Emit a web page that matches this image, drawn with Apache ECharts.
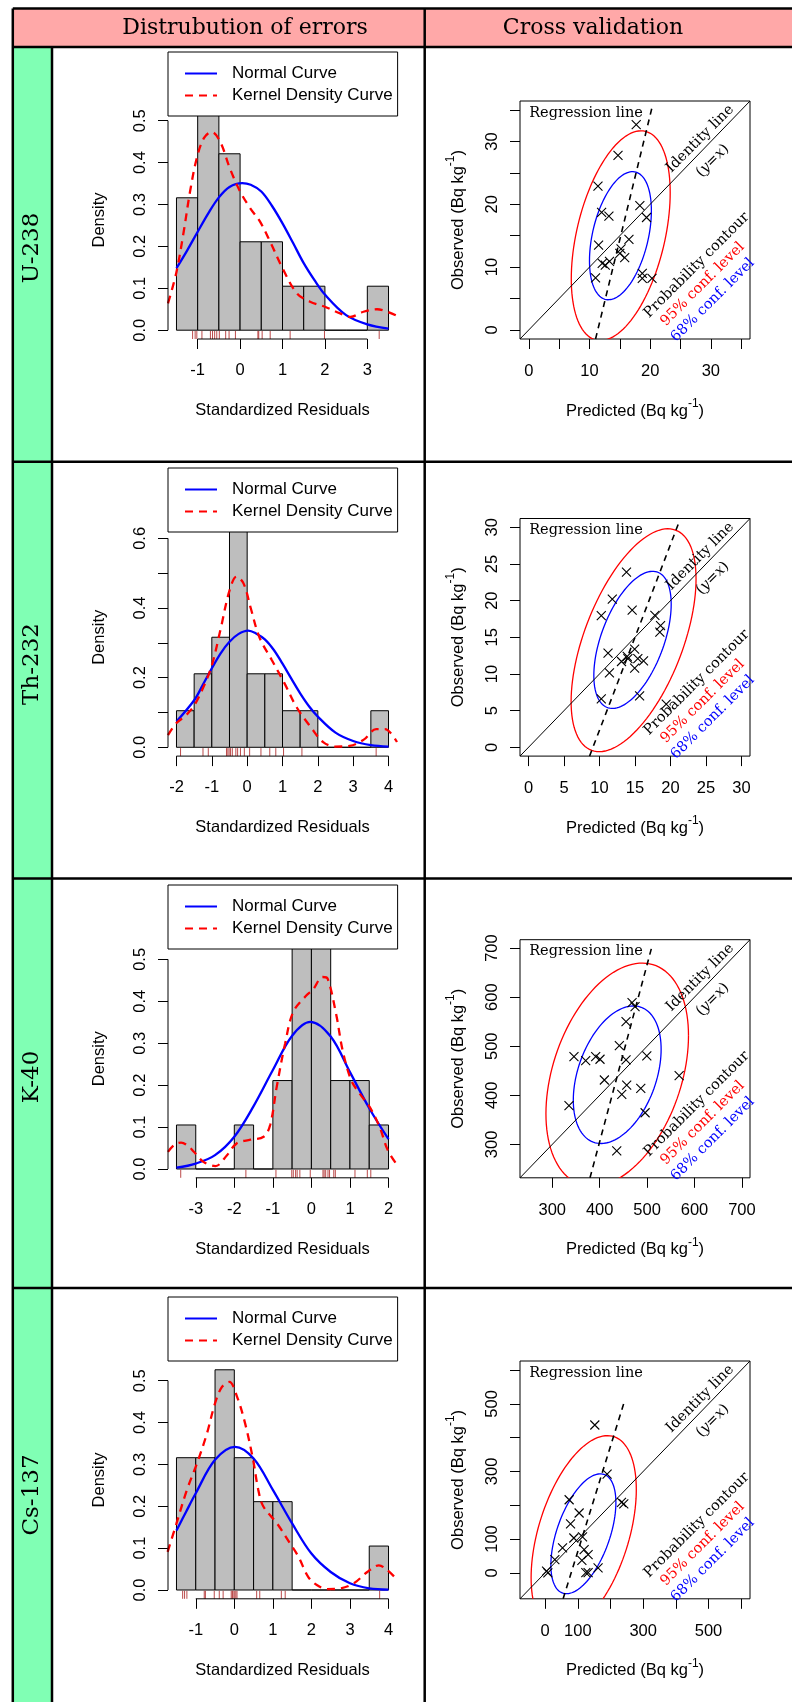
<!DOCTYPE html>
<html>
<head>
<meta charset="utf-8">
<title>Distribution of errors and cross validation</title>
<script src="https://cdn.jsdelivr.net/npm/echarts@6/dist/echarts.min.js"></script>
<style>
    html, body { margin: 0; padding: 0; background: #fff; }
    #chart { width: 792px; height: 1702px; }
</style>
</head>
<body>
<div id="chart"></div>
<script>
// ---------- values ----------
const binWidth = 0.5;

// U-238
const u238BinStart = -1.5;
const u238Density = [0.316, 0.526, 0.421, 0.211, 0.211, 0.105, 0.105, 0, 0, 0.105];
const u238Residuals = [-1.12, -1.06, -1.02, -0.9, -0.7, -0.65, -0.6, -0.55, -0.49, -0.34, -0.26, -0.11, 0.42, 0.44, 0.52, 0.71, 1.18, 1.99, 3.28];
const u238Normal = [[-1.5, 0.148], [-1.25, 0.19], [-1, 0.235], [-0.75, 0.279], [-0.5, 0.317], [-0.25, 0.342], [0.05, 0.351], [0.25, 0.347], [0.5, 0.331], [0.75, 0.297], [1, 0.255], [1.25, 0.208], [1.5, 0.16], [1.75, 0.12], [2, 0.085], [2.5, 0.036], [3, 0.014], [3.5, 0.004]];
const u238Kernel = [[-1.7, 0.064], [-1.5, 0.139], [-1.33, 0.235], [-1.18, 0.331], [-1.02, 0.411], [-0.85, 0.459], [-0.67, 0.473], [-0.47, 0.45], [-0.24, 0.386], [0, 0.331], [0.24, 0.291], [0.47, 0.259], [0.71, 0.211], [1, 0.148], [1.34, 0.088], [1.65, 0.068], [2, 0.056], [2.36, 0.04], [2.6, 0.032], [2.91, 0.044], [3.23, 0.05], [3.7, 0.034]];
const u238Predicted = [17.7, 14.7, 11.4, 12.0, 13.2, 18.3, 19.4, 11.5, 16.5, 15.2, 15.0, 15.8, 12.1, 12.6, 13.3, 11.0, 18.7, 18.7, 20.3];
const u238Observed = [32.7, 27.8, 22.9, 18.7, 18.1, 19.8, 17.9, 13.5, 14.4, 12.9, 12.2, 11.5, 10.6, 10.3, 10.9, 8.3, 9.0, 8.2, 8.2];
const u238Ellipse95 = [15.15, 15.0, 8.15, 16.7, 0.41];
const u238Ellipse68 = [15.1, 15.0, 5.1, 10.2, 0.39];
const u238Regression = [[11.0, -1.45], [20.3, 35.4]];

// Th-232
const th232BinStart = -2;
const th232Density = [0.105, 0.211, 0.316, 0.632, 0.211, 0.211, 0.105, 0.105, 0, 0, 0, 0.105];
const th232Residuals = [-1.885, -1.25, -1.1, -0.585, -0.547, -0.51, -0.47, -0.42, -0.32, -0.27, -0.19, -0.08, 0.07, 0.39, 0.64, 0.81, 1.03, 1.55, 3.65];
const th232Normal = [[-2, 0.074], [-1.5, 0.135], [-1.25, 0.18], [-1, 0.227], [-0.75, 0.27], [-0.5, 0.303], [-0.25, 0.325], [0.03, 0.335], [0.25, 0.327], [0.5, 0.31], [0.75, 0.28], [1, 0.24], [1.25, 0.197], [1.5, 0.155], [1.75, 0.118], [2, 0.088], [2.5, 0.042], [3, 0.018], [3.5, 0.006], [4, 0.002]];
const th232Kernel = [[-2.24, 0.035], [-2, 0.07], [-1.75, 0.09], [-1.5, 0.12], [-1.25, 0.17], [-1, 0.235], [-0.75, 0.34], [-0.5, 0.45], [-0.3, 0.49], [-0.1, 0.47], [0.1, 0.4], [0.35, 0.315], [0.7, 0.25], [1.05, 0.185], [1.4, 0.115], [1.8, 0.058], [2.15, 0.015], [2.5, 0.002], [2.9, 0.004], [3.3, 0.022], [3.65, 0.052], [3.9, 0.052], [4.24, 0.015]];
const th232Predicted = [13.8, 11.8, 10.25, 14.6, 17.8, 18.6, 18.5, 11.2, 14.95, 13.9, 13.1, 14.0, 15.4, 16.2, 14.95, 11.4, 10.25, 15.65, 19.4];
const th232Observed = [23.9, 20.2, 17.95, 18.7, 18.0, 16.6, 15.7, 12.85, 13.4, 12.4, 11.7, 12.1, 12.1, 11.8, 10.8, 10.15, 6.6, 7.0, 5.9];
const th232Ellipse95 = [14.8, 14.6, 8.8, 15.2, 0.55];
const th232Ellipse68 = [14.65, 14.65, 5.45, 9.35, 0.52];
const th232Regression = [[8.6, -1.2], [21.2, 30.7]];

// K-40
const k40BinStart = -3.5;
const k40Density = [0.105, 0, 0, 0.105, 0, 0.211, 0.526, 0.526, 0.211, 0.211, 0.105];
const k40Residuals = [-3.39, -1.7, -0.92, -0.51, -0.47, -0.41, -0.37, -0.3, -0.03, 0.3, 0.33, 0.37, 0.43, 0.47, 0.58, 0.62, 1.13, 1.45, 1.54];
const k40Normal = [[-3.5, 0.003], [-3, 0.013], [-2.5, 0.033], [-2, 0.077], [-1.5, 0.15], [-1, 0.236], [-0.5, 0.318], [-0.03, 0.351], [0.5, 0.316], [1, 0.231], [1.5, 0.145], [2, 0.071]];
const k40Kernel = [[-3.72, 0.041], [-3.55, 0.058], [-3.38, 0.063], [-3.2, 0.055], [-3.05, 0.041], [-2.8, 0.017], [-2.49, 0.007], [-2.19, 0.033], [-1.94, 0.061], [-1.58, 0.07], [-1.24, 0.077], [-1.07, 0.105], [-0.9, 0.196], [-0.68, 0.3], [-0.47, 0.375], [-0.12, 0.415], [0.04, 0.428], [0.29, 0.458], [0.42, 0.454], [0.64, 0.37], [0.81, 0.283], [1.03, 0.212], [1.25, 0.18], [1.51, 0.148], [1.77, 0.1], [1.98, 0.045], [2.22, 0.01]];
const k40Predicted = [468.3, 474.6, 455.6, 441.5, 455.6, 345.8, 370.5, 391.6, 400.7, 499.4, 409.9, 457.0, 486.7, 446.6, 567.6, 335.3, 495.8, 436.0];
const k40Observed = [589, 580.7, 550.2, 501.2, 472.0, 478.8, 470.6, 478.8, 473.5, 480.2, 431.2, 421.0, 414.3, 402.0, 440.0, 378.8, 364.5, 287.0];
const k40Ellipse95 = [437, 442, 150.3, 227.4, 0.35];
const k40Ellipse68 = [437, 442, 92.6, 140.1, 0.37];
const k40Regression = [[379.6, 232], [511.2, 706.7]];

// Cs-137
const cs137BinStart = -1.5;
const cs137Density = [0.316, 0.316, 0.526, 0.316, 0.211, 0.211, 0, 0, 0, 0, 0.105];
const cs137Residuals = [-1.34, -1.29, -1.23, -0.78, -0.75, -0.52, -0.39, -0.29, -0.08, -0.05, -0.03, 0.01, 0.04, 0.07, 0.58, 0.66, 1.22, 1.32, 3.77];
const cs137Normal = [[-1.5, 0.142], [-1.25, 0.187], [-1, 0.231], [-0.5, 0.311], [0.02, 0.342], [0.5, 0.314], [1, 0.239], [1.5, 0.159], [2, 0.087], [2.5, 0.043], [3, 0.016], [3.5, 0.004], [4, 0.001]];
const cs137Kernel = [[-1.73, 0.091], [-1.5, 0.159], [-1.23, 0.239], [-0.97, 0.302], [-0.71, 0.374], [-0.5, 0.446], [-0.32, 0.485], [-0.13, 0.497], [0.07, 0.462], [0.28, 0.398], [0.49, 0.31], [0.62, 0.24], [0.75, 0.2], [1.1, 0.16], [1.44, 0.112], [1.66, 0.08], [1.92, 0.031], [2.14, 0.012], [2.41, 0.002], [2.76, 0.004], [3.1, 0.016], [3.45, 0.043], [3.75, 0.059], [3.96, 0.048], [4.22, 0.025]];
const cs137Predicted = [152, 189.6, 73.4, 233.6, 240.7, 104, 77.7, 87.8, 114.4, 53.2, 119.3, 131.5, 29.7, 112.4, 4.3, 8.3, 124.5, 131.5, 162];
const cs137Observed = [437.5, 292, 216.2, 208.3, 204.3, 177, 144.5, 103, 106, 73.7, 68.7, 54, 39.2, 37, 4.7, 0, 0.7, 0.7, 14.7];
const cs137Ellipse95 = [118, 116, 161, 290, 0.45];
const cs137Ellipse68 = [117, 115.5, 99.5, 177.5, 0.52];
const cs137Regression = [[55, -77], [241.6, 504.4]];

// axis ticks and tick labels
const u238HistXTicks = [-1, 0, 1, 2, 3];
const th232HistXTicks = [-2, -1, 0, 1, 2, 3, 4];
const k40HistXTicks = [-3, -2, -1, 0, 1, 2];
const cs137HistXTicks = [-1, 0, 1, 2, 3, 4];
const densityTicks = [0, 0.1, 0.2, 0.3, 0.4, 0.5];
const th232DensityTicks = [0, 0.1, 0.2, 0.3, 0.4, 0.5, 0.6];
const th232DensityLabels = [0, 0.2, 0.4, 0.6];
const u238CvTicks = [0, 5, 10, 15, 20, 25, 30, 35];
const u238CvLabels = [0, 10, 20, 30];
const th232CvTicks = [0, 5, 10, 15, 20, 25, 30];
const k40CvTicks = [300, 400, 500, 600, 700];
const cs137CvTicks = [0, 100, 200, 300, 400, 500, 600];
const cs137CvLabels = [0, 100, 300, 500];

const rowLabels = ['U-238', 'Th-232', 'K-40', 'Cs-137'];
const headerLabels = ['Distrubution of errors', 'Cross validation'];

// ---------- layout ----------
const sans = '"Liberation Sans", Arial, sans-serif';
const serif = '"DejaVu Serif", serif';
const W = 792, H = 1702;
const tableTop = 8.5, headerBottom = 47, tableLeft = 12.8, labelRight = 52, midX = 424.7;
const rows = [
    { top: 47, bottom: 461.7, plotTop: 101, plotBottom: 339, legendTop: 52, labelY: 248 },
    { top: 461.7, bottom: 878.5, plotTop: 518.5, plotBottom: 756.1, legendTop: 468, labelY: 664 },
    { top: 878.5, bottom: 1288, plotTop: 939.7, plotBottom: 1177.8, legendTop: 885, labelY: 1077 },
    { top: 1288, bottom: 1702, plotTop: 1361, plotBottom: 1598.8, legendTop: 1297, labelY: 1495 },
];
const histLeft = 168, histWidth = 229;
const cvLeft = 520, cvWidth = 230;

const histPanels = [
    { binStart: u238BinStart, density: u238Density, residuals: u238Residuals, normal: u238Normal, kernel: u238Kernel,
      xRange: [-1.7, 3.7], yRange: [-0.021, 0.547], xTicks: u238HistXTicks, yTicks: densityTicks, yLabels: densityTicks },
    { binStart: th232BinStart, density: th232Density, residuals: th232Residuals, normal: th232Normal, kernel: th232Kernel,
      xRange: [-2.24, 4.24], yRange: [-0.0253, 0.657], xTicks: th232HistXTicks, yTicks: th232DensityTicks, yLabels: th232DensityLabels },
    { binStart: k40BinStart, density: k40Density, residuals: k40Residuals, normal: k40Normal, kernel: k40Kernel,
      xRange: [-3.72, 2.22], yRange: [-0.021, 0.547], xTicks: k40HistXTicks, yTicks: densityTicks, yLabels: densityTicks },
    { binStart: cs137BinStart, density: cs137Density, residuals: cs137Residuals, normal: cs137Normal, kernel: cs137Kernel,
      xRange: [-1.72, 4.22], yRange: [-0.021, 0.547], xTicks: cs137HistXTicks, yTicks: densityTicks, yLabels: densityTicks },
];
const cvPanels = [
    { predicted: u238Predicted, observed: u238Observed, e95: u238Ellipse95, e68: u238Ellipse68, regression: u238Regression,
      range: [-1.45, 36.45], ticks: u238CvTicks, labels: u238CvLabels },
    { predicted: th232Predicted, observed: th232Observed, e95: th232Ellipse95, e68: th232Ellipse68, regression: th232Regression,
      range: [-1.2, 31.2], ticks: th232CvTicks, labels: th232CvTicks },
    { predicted: k40Predicted, observed: k40Observed, e95: k40Ellipse95, e68: k40Ellipse68, regression: k40Regression,
      range: [232, 717], ticks: k40CvTicks, labels: k40CvTicks },
    { predicted: cs137Predicted, observed: cs137Observed, e95: cs137Ellipse95, e68: cs137Ellipse68, regression: cs137Regression,
      range: [-77, 627], ticks: cs137CvTicks, labels: cs137CvLabels },
];

const axisText = { fontFamily: sans, fontSize: 16.5, color: '#000' };
const unitRich = {
    sup: { fontFamily: sans, fontSize: 12, lineHeight: 12, verticalAlign: 'top', color: '#000' },
};

function barItem(params, api) {
    const p0 = api.coord([api.value(0), 0]);
    const p1 = api.coord([api.value(1), api.value(2)]);
    return {
        type: 'rect',
        shape: { x: p0[0], y: p1[1], width: p1[0] - p0[0], height: p0[1] - p1[1] },
        style: { fill: '#bebebe', stroke: '#000', lineWidth: 1 },
    };
}

function ellipseItem(params, api) {
    const cx = api.value(0), cy = api.value(1), a = api.value(2), b = api.value(3);
    const phi = Math.acos(api.value(4));
    const pts = [];
    for (let k = 0; k <= 120; k++) {
        const t = (k / 120) * Math.PI * 2;
        pts.push(api.coord([cx + a * Math.cos(t), cy + b * Math.cos(t - phi)]));
    }
    return { type: 'polyline', shape: { points: pts }, style: { stroke: api.visual('color'), fill: null, lineWidth: 1.3 } };
}

const grid = [], xAxis = [], yAxis = [], series = [], legend = [], graphic = [];

histPanels.forEach((p, i) => {
    const row = rows[i];
    grid.push({ left: histLeft, top: row.plotTop, width: histWidth, height: row.plotBottom - row.plotTop });
    xAxis.push({
        type: 'value', gridIndex: i, min: p.xRange[0], max: p.xRange[1],
        name: 'Standardized Residuals', nameLocation: 'middle', nameGap: 63, nameTextStyle: axisText,
        axisLine: { show: false, onZero: false }, splitLine: { show: false },
        axisTick: { show: true, length: 10, lineStyle: { color: '#000' }, customValues: p.xTicks },
        axisLabel: { ...axisText, margin: 23, customValues: p.xTicks },
    });
    yAxis.push({
        type: 'value', gridIndex: i, min: p.yRange[0], max: p.yRange[1],
        name: 'Density', nameLocation: 'middle', nameGap: 60, nameTextStyle: axisText,
        axisLine: { show: false, onZero: false }, splitLine: { show: false },
        axisTick: { show: true, length: 10, lineStyle: { color: '#000' }, customValues: p.yTicks },
        axisLabel: { ...axisText, rotate: 90, margin: 19.5, customValues: p.yLabels, formatter: (v) => v.toFixed(1) },
    });
    const bins = p.density.map((d, k) => [p.binStart + k * binWidth, p.binStart + (k + 1) * binWidth, d]);
    series.push({
        type: 'custom', xAxisIndex: i, yAxisIndex: i, data: bins, encode: { x: [0, 1], y: 2 },
        renderItem: barItem, silent: true, z: 2,
    });
    series.push({
        type: 'line', name: 'Normal Curve', xAxisIndex: i, yAxisIndex: i, data: p.normal,
        symbol: 'none', smooth: 0.35, silent: true, z: 3,
        lineStyle: { color: '#0000ff', width: 2.3 }, itemStyle: { color: '#0000ff' },
    });
    series.push({
        type: 'line', name: 'Kernel Density Curve', xAxisIndex: i, yAxisIndex: i, data: p.kernel,
        symbol: 'none', smooth: 0.35, silent: true, z: 4,
        lineStyle: { color: '#ff0000', width: 2.3, type: [8, 6] }, itemStyle: { color: '#ff0000' },
    });
    const yMin = p.yRange[0];
    series.push({
        type: 'custom', xAxisIndex: i, yAxisIndex: i, data: p.residuals.map((r) => [r]), encode: { x: 0 },
        silent: true, z: 3,
        renderItem: (params, api) => {
            const pt = api.coord([api.value(0), yMin]);
            return { type: 'line', shape: { x1: pt[0], y1: pt[1], x2: pt[0], y2: pt[1] - 8 },
                     style: { stroke: 'rgba(170, 30, 30, 0.8)', lineWidth: 1 } };
        },
    });
    // R style axis lines, from first to last tick
    const xt = p.xTicks, yt = p.yTicks;
    series.push({
        type: 'line', xAxisIndex: i, yAxisIndex: i, clip: false, symbol: 'none', silent: true, z: 5,
        data: [[xt[0], yMin], [xt[xt.length - 1], yMin]], lineStyle: { color: '#000', width: 1 },
    });
    series.push({
        type: 'line', xAxisIndex: i, yAxisIndex: i, clip: false, symbol: 'none', silent: true, z: 5,
        data: [[p.xRange[0], yt[0]], [p.xRange[0], yt[yt.length - 1]]], lineStyle: { color: '#000', width: 1 },
    });
    legend.push({
        orient: 'vertical', left: histLeft, top: row.legendTop,
        padding: [13, 5, 12, 16], itemGap: 5, itemWidth: 32, itemHeight: 16,
        backgroundColor: '#fff', borderColor: '#000', borderWidth: 1, selectedMode: false, z: 10,
        itemStyle: { opacity: 0 },
        textStyle: { fontFamily: sans, fontSize: 17, color: '#000', lineHeight: 16, padding: [0, 0, 0, 10] },
        data: ['Normal Curve', 'Kernel Density Curve'],
    });
});

cvPanels.forEach((p, j) => {
    const i = j + 4;
    const row = rows[j];
    const gh = row.plotBottom - row.plotTop;
    grid.push({ left: cvLeft, top: row.plotTop, width: cvWidth, height: gh, show: true, borderColor: '#000', borderWidth: 1 });
    const common = {
        type: 'value', gridIndex: i, min: p.range[0], max: p.range[1], nameLocation: 'middle',
        axisLine: { show: false, onZero: false }, splitLine: { show: false },
        axisTick: { show: true, length: 10, lineStyle: { color: '#000' }, customValues: p.ticks },
    };
    xAxis.push({
        ...common, name: 'Predicted (Bq kg{sup|-1})', nameGap: 59,
        nameTextStyle: { ...axisText, lineHeight: 26, rich: unitRich },
        axisLabel: { ...axisText, margin: 24, customValues: p.labels },
    });
    yAxis.push({
        ...common, name: 'Observed (Bq kg{sup|-1})', nameGap: 49,
        nameTextStyle: { ...axisText, lineHeight: 26, rich: unitRich },
        axisLabel: { ...axisText, rotate: 90, margin: 19, customValues: p.labels },
    });
    series.push({
        type: 'custom', xAxisIndex: i, yAxisIndex: i, data: [p.e95], encode: { x: 0, y: 1 },
        renderItem: ellipseItem, clip: true, silent: true, itemStyle: { color: '#ff0000' }, z: 2,
    });
    series.push({
        type: 'custom', xAxisIndex: i, yAxisIndex: i, data: [p.e68], encode: { x: 0, y: 1 },
        renderItem: ellipseItem, clip: true, silent: true, itemStyle: { color: '#0000ff' }, z: 2,
    });
    series.push({
        type: 'line', xAxisIndex: i, yAxisIndex: i, symbol: 'none', silent: true, z: 3,
        data: [[p.range[0], p.range[0]], [p.range[1], p.range[1]]], lineStyle: { color: '#000', width: 1 },
    });
    series.push({
        type: 'line', xAxisIndex: i, yAxisIndex: i, symbol: 'none', silent: true, z: 3,
        data: p.regression, lineStyle: { color: '#000', width: 1.6, type: [6, 5] },
    });
    series.push({
        type: 'scatter', xAxisIndex: i, yAxisIndex: i, silent: true, z: 4,
        data: p.predicted.map((v, k) => [v, p.observed[k]]),
        symbol: 'path://M0,0L10,10M10,0L0,10', symbolSize: 9,
        itemStyle: { color: 'rgba(0,0,0,0)', borderColor: '#000', borderWidth: 1.1, opacity: 1 },
    });
    // text annotations, placed in the plot box like the original
    const at = (fx, fy) => [cvLeft + fx * cvWidth, row.plotTop + fy * gh];
    const notes = [
        { text: 'Regression line', pos: at(0.04, 0.05), rot: 0, align: 'left', color: '#000' },
        { text: 'Identity line', pos: at(0.783, 0.159), rot: 45, align: 'center', color: '#000' },
        { text: '({i|y}={i|x})', pos: at(0.838, 0.251), rot: 45, align: 'center', color: '#000' },
        { text: 'Probability contour', pos: at(0.768, 0.69), rot: 45, align: 'center', color: '#000' },
        { text: '95% conf. level', pos: at(0.794, 0.77), rot: 45, align: 'center', color: '#ff0000' },
        { text: '68% conf. level', pos: at(0.838, 0.837), rot: 45, align: 'center', color: '#0000ff' },
    ];
    notes.forEach((n) => {
        graphic.push({
            type: 'text', x: n.pos[0], y: n.pos[1], rotation: (n.rot * Math.PI) / 180, z: 20, silent: true,
            style: {
                text: n.text, fill: n.color, font: '14.5px ' + serif, align: n.align, verticalAlign: 'middle',
                rich: { i: { fontStyle: 'italic', fontFamily: serif, fontSize: 14.5, fill: n.color } },
            },
        });
    });
});

// ---------- table frame ----------
graphic.unshift(
    { type: 'rect', z: -10, shape: { x: tableLeft, y: tableTop, width: W - tableLeft, height: headerBottom - tableTop }, style: { fill: '#ffa8a8' } },
    { type: 'rect', z: -10, shape: { x: tableLeft, y: headerBottom, width: labelRight - tableLeft, height: H - headerBottom }, style: { fill: '#80ffb4' } }
);
const frameLines = [
    [tableLeft, tableTop, W, tableTop],
    [tableLeft, headerBottom, W, headerBottom],
    [tableLeft, tableTop, tableLeft, H],
    [labelRight, headerBottom, labelRight, H],
    [midX, tableTop, midX, H],
];
rows.slice(0, 3).forEach((r) => frameLines.push([tableLeft, r.bottom, W, r.bottom]));
frameLines.forEach((l) => {
    graphic.push({ type: 'line', z: 30, silent: true, shape: { x1: l[0], y1: l[1], x2: l[2], y2: l[3] }, style: { stroke: '#000', lineWidth: 2.5 } });
});
graphic.push(
    { type: 'text', x: 245, y: 28, z: 30, style: { text: headerLabels[0], font: '22px ' + serif, fill: '#000', align: 'center', verticalAlign: 'middle' } },
    { type: 'text', x: 593, y: 28, z: 30, style: { text: headerLabels[1], font: '22px ' + serif, fill: '#000', align: 'center', verticalAlign: 'middle' } }
);
rowLabels.forEach((label, k) => {
    graphic.push({
        type: 'text', x: (tableLeft + labelRight) / 2, y: rows[k].labelY, rotation: Math.PI / 2, z: 30,
        style: { text: label, font: '23px ' + serif, fill: '#000', align: 'center', verticalAlign: 'middle' },
    });
});

const chart = echarts.init(document.getElementById('chart'), null, { renderer: 'canvas' });
chart.setOption({
    animation: false,
    backgroundColor: '#fff',
    grid, xAxis, yAxis, series, legend, graphic,
});
</script>
</body>
</html>
